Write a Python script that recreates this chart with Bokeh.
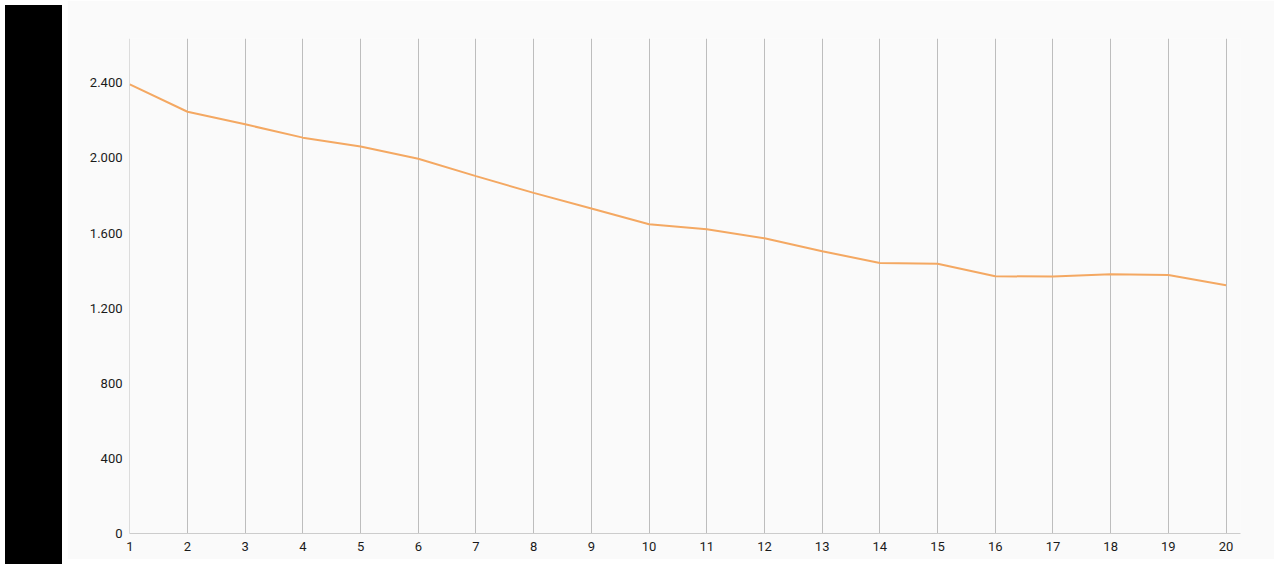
from bokeh.plotting import figure
from bokeh.models import FixedTicker, Div, ColumnDataSource
from bokeh.layouts import row
from bokeh.embed import file_html
from bokeh.resources import INLINE

x_values = list(range(1, 21))
y_values = [2392, 2246, 2179, 2108, 2061, 1996, 1903, 1814, 1731, 1647,
            1620, 1572, 1503, 1441, 1437, 1370, 1368, 1380, 1377, 1322]
y_ticks = [0, 400, 800, 1200, 1600, 2000, 2400]
y_tick_labels = ["0", "400", "800", "1.200", "1.600", "2.000", "2.400"]

src = ColumnDataSource(dict(x=x_values, y=y_values))

p = figure(width=1207, height=559, output_backend="svg", toolbar_location=None,
           x_range=(0.995, 20.25), y_range=(0, 2636),
           min_border_left=62, min_border_right=34, min_border_top=38, min_border_bottom=26)
p.background_fill_color = "#fafafa"
p.border_fill_color = "#fafafa"
p.outline_line_color = None

p.line("x", "y", source=src, line_color="#f4a862", line_width=2)

p.xaxis.ticker = FixedTicker(ticks=x_values)
p.yaxis.ticker = FixedTicker(ticks=y_ticks)
p.yaxis.major_label_overrides = {t: l for t, l in zip(y_ticks, y_tick_labels)}

for ax in (p.xaxis, p.yaxis):
    ax.major_tick_line_color = None
    ax.minor_tick_line_color = None
    ax.major_tick_out = 0
    ax.major_tick_in = 0
    ax.minor_tick_out = 0
    ax.major_label_text_font = "Roboto"
    ax.major_label_text_font_size = "13px"
    ax.major_label_text_color = "#1a1a1a"
p.xaxis.axis_line_color = "#cccccc"
p.xaxis.axis_line_width = 1
p.yaxis.axis_line_color = None
p.xaxis.major_label_standoff = 8
p.yaxis.major_label_standoff = 7

p.xgrid.grid_line_color = "#bdbdbd"
p.xgrid.grid_line_width = 1
p.ygrid.grid_line_color = None

band = Div(width=57, height=559, styles={"background-color": "#000000"})

layout = row(band, p, spacing=0)
open("out.html", "w").write(file_html(layout, INLINE))
